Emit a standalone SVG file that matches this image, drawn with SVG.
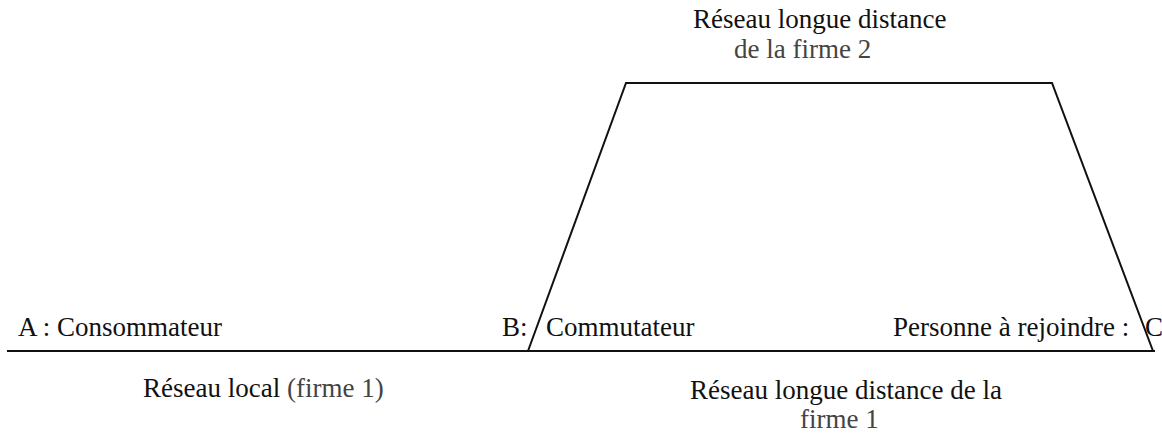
<svg xmlns="http://www.w3.org/2000/svg" width="1162" height="433" viewBox="0 0 1162 433">
<style>
text{font-family:"Liberation Serif","Times New Roman",serif;font-size:27px;fill:#111}
.lt{fill:#444}
.ln{stroke:#111;stroke-width:2;fill:none}
</style>
<rect width="1162" height="433" fill="#fff"/>
<g id="connectors">
<line class="ln" x1="7" y1="351" x2="1155" y2="351"/>
<polyline class="ln" points="528,351 626,83 1052,83 1153,351"/>
</g>
<g id="nodeA"><text x="18" y="336">A : Consommateur</text></g>
<g id="nodeB"><text x="502" y="336">B:</text><text x="546" y="336">Commutateur</text></g>
<g id="nodeC"><text x="893" y="336">Personne à rejoindre :</text><text x="1145" y="336">C</text></g>
<g id="label-local"><text x="143" y="397">Réseau local <tspan class="lt">(firme 1)</tspan></text></g>
<g id="label-firme2"><text x="693" y="28">Réseau longue distance</text><text x="734" y="58" class="lt">de la firme 2</text></g>
<g id="label-firme1"><text x="690" y="399">Réseau longue distance de la</text><text x="800" y="428" class="lt">firme 1</text></g>
</svg>
